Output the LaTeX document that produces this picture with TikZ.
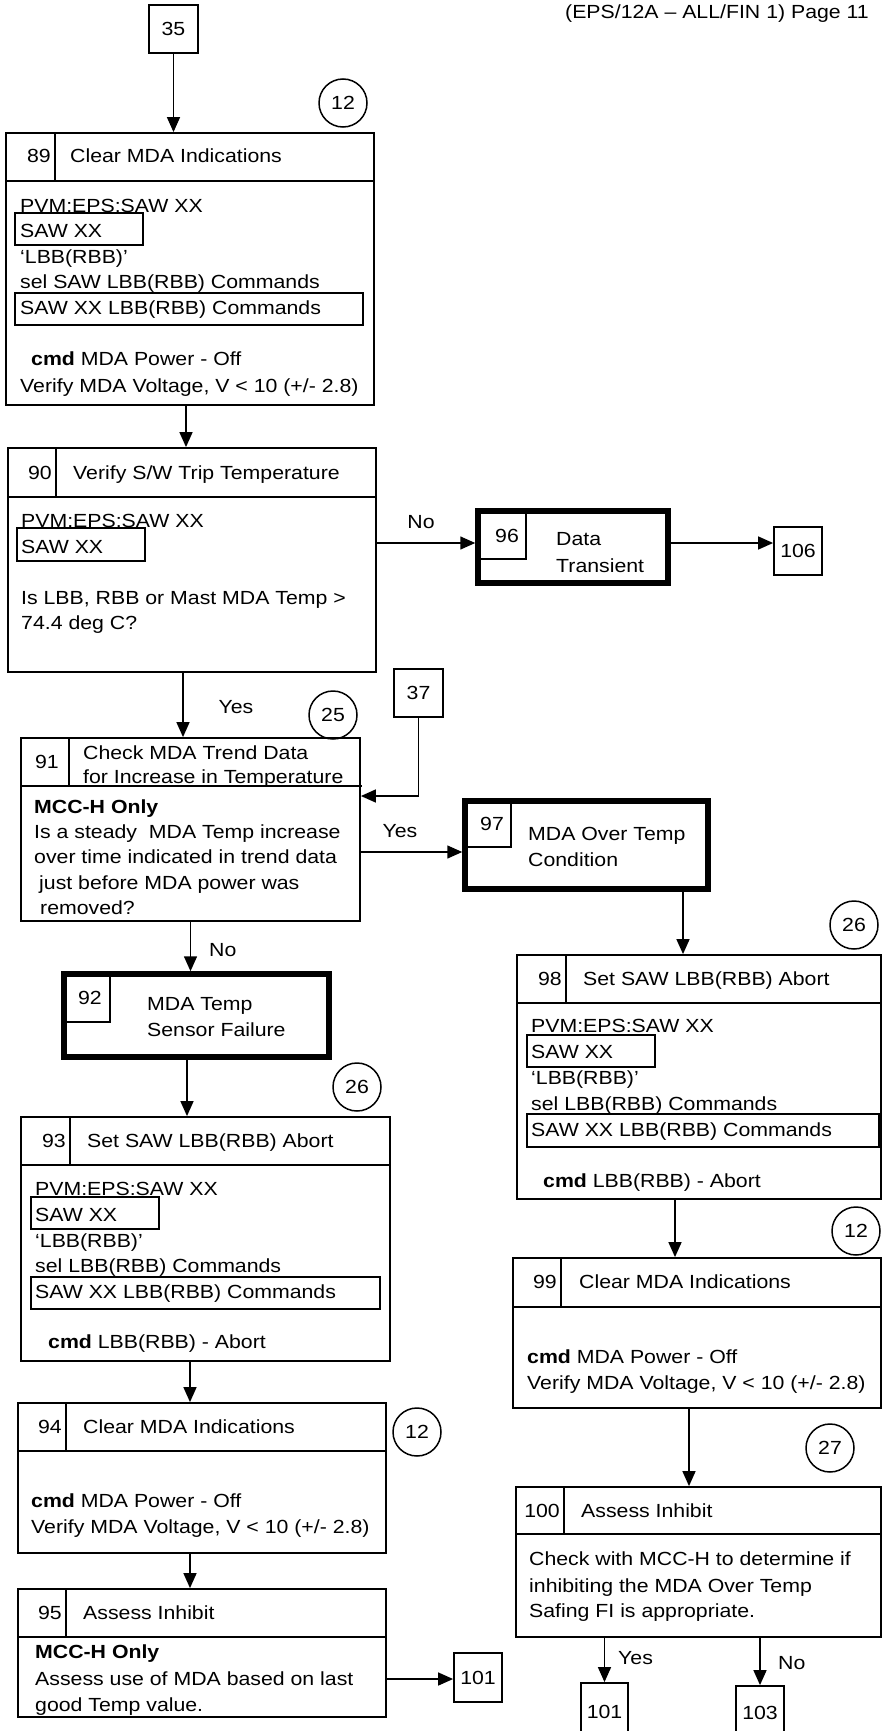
\documentclass[tikz,border=0pt]{standalone}
\usepackage{fontspec}
\setmainfont{Liberation Sans}[FakeStretch=1.12]
\usetikzlibrary{arrows.meta}
\begin{document}
\begin{tikzpicture}[x=1pt,y=-1pt,
  font=\fontsize{19}{22}\selectfont,
  box/.style={draw, rectangle, line width=1.8pt, inner sep=0pt},
  tbox/.style={draw, rectangle, line width=5.5pt, inner sep=0pt},
  sbox/.style={draw, rectangle, line width=1.8pt, inner sep=0pt},
  circ/.style={draw, circle, line width=1.5pt, minimum size=48pt, inner sep=0pt},
  txt/.style={anchor=base west, inner sep=0pt},
  num/.style={anchor=base east, inner sep=0pt},
  ctr/.style={anchor=base, inner sep=0pt},
  div/.style={line width=1.8pt},
  thin/.style={line width=1.5pt},
  arr/.style={line width=1.5pt, -{Triangle[length=15pt,width=13pt]}}]
\useasboundingbox (0,0) rectangle (882,1731);
\fill[white] (0,0) rectangle (882,1731);
\clip (0,0) rectangle (882,1731);

\node[txt] (hdr) at (565,19) {(EPS/12A – ALL/FIN 1) Page 11};

% 35 -> 89
\node[sbox, minimum width=49pt, minimum height=48pt] (n35) at (173.5,29) {35};
\node[circ] (c12a) at (343,103) {12};
\node[box, minimum width=368pt, minimum height=272pt] (b89) at (190,269) {};
\draw[arr] (n35.south) -- (n35.south |- b89.north);
\draw[div] (6,181) -- (374,181) (55,133) -- (55,181);
\node[num] (b89n) at (51,163) {89};
\node[txt] (b89t) at (70,163) {Clear MDA Indications};
\node[txt] (b89a) at (20,212) {PVM:EPS:SAW XX};
\draw[thin] (15,213) rectangle (143,245);
\node[txt] (b89b) at (20,237) {SAW XX};
\node[txt] (b89c) at (20,263) {‘LBB(RBB)’};
\node[txt] (b89d) at (20,288) {sel SAW LBB(RBB) Commands};
\draw[thin] (15,293) rectangle (363,325);
\node[txt] (b89e) at (20,314) {SAW XX LBB(RBB) Commands};
\node[txt] (b89f) at (31,365) {\textbf{cmd} MDA Power - Off};
\node[txt] (b89g) at (20,392) {Verify MDA Voltage, V < 10 (+/- 2.8)};

% 90
\node[box, minimum width=368pt, minimum height=224pt] (b90) at (192,560) {};
\draw[arr] ([xshift=-4pt]b89.south) -- ([xshift=-4pt]b89.south |- b90.north);
\draw[div] (8,497) -- (376,497) (56,448) -- (56,497);
\node[num] (b90n) at (52,479) {90};
\node[txt] (b90t) at (73,479) {Verify S/W Trip Temperature};
\node[txt] (b90a) at (21,527) {PVM:EPS:SAW XX};
\draw[thin] (17,528) rectangle (145,561);
\node[txt] (b90b) at (21,553) {SAW XX};
\node[txt] (b90c) at (21,604) {Is LBB, RBB or Mast MDA Temp >};
\node[txt] (b90d) at (21,629) {74.4 deg C?};

% 96, 106
\node[tbox, minimum width=190pt, minimum height=72pt] (b96) at (573,547) {};
\draw[thin] (526,513) -- (526,560) (481,559) -- (526,559);
\node[ctr] (b96n) at (507,542) {96};
\node[txt] (b96a) at (556,545) {Data};
\node[txt] (b96b) at (556,572) {Transient};
\node[sbox, minimum width=48pt, minimum height=48pt] (n106) at (798,551) {106};
\draw[arr] ([yshift=17pt]b90.east) -- ([yshift=17pt]b90.east -| b96.west);
\node[ctr] (lno1) at (421,528) {No};
\draw[arr] ([yshift=4pt]b96.east) -- ([yshift=4pt]b96.east -| n106.west);

% 37, 25, 91
\node[sbox, minimum width=49pt, minimum height=48pt] (n37) at (418.5,693) {37};
\node[circ] (c25) at (333,715) {25};
\node[box, minimum width=339pt, minimum height=183pt] (b91) at (190.5,829.5) {};
\draw[arr] ([xshift=-9pt]b90.south) -- ([xshift=-9pt]b90.south |- b91.north);
\node[ctr] (lyes1) at (236,713) {Yes};
\node[ctr] (b91n) at (47,768) {91};
\node[txt] (b91t1) at (83,759) {Check MDA Trend Data};
\node[txt] (b91t2) at (83,783) {for Increase in Temperature};
\draw[div] (21,786) -- (362,786) (69,738) -- (69,786);
\node[txt] (b91a) at (34,813) {\textbf{MCC-H Only}};
\node[txt] (b91b) at (34,838) {Is a steady\ \ MDA Temp increase};
\node[txt] (b91c) at (34,863) {over time indicated in trend data};
\node[txt] (b91d) at (39,889) {just before MDA power was};
\node[txt] (b91e) at (40,914) {removed?};
\draw[arr] (n37.south) |- ([yshift=33.5pt]b91.east);

% 97
\node[tbox, minimum width=243pt, minimum height=88pt] (b97) at (586.5,845) {};
\draw[arr] ([yshift=-22.5pt]b91.east) -- ([yshift=-22.5pt]b91.east -| b97.west);
\node[ctr] (lyes2) at (400,837) {Yes};
\draw[thin] (511,803) -- (511,848) (467,847) -- (511,847);
\node[ctr] (b97n) at (492,830) {97};
\node[txt] (b97a) at (528,840) {MDA Over Temp};
\node[txt] (b97b) at (528,866) {Condition};

% 92
\node[tbox, minimum width=265pt, minimum height=83pt] (b92) at (196.5,1015.5) {};
\draw[arr] (b91.south) -- (b91.south |- b92.north);
\node[txt] (lno2) at (209,956) {No};
\draw[thin] (110,976) -- (110,1023) (66,1022) -- (110,1022);
\node[ctr] (b92n) at (90,1004) {92};
\node[txt] (b92a) at (147,1010) {MDA Temp};
\node[txt] (b92b) at (147,1036) {Sensor Failure};

% 93
\node[circ] (c26a) at (357,1087) {26};
\node[box, minimum width=369pt, minimum height=244pt] (b93) at (205.5,1239) {};
\draw[arr] ([xshift=-9.5pt]b92.south) -- ([xshift=-9.5pt]b92.south |- b93.north);
\draw[div] (21,1165) -- (390,1165) (70,1117) -- (70,1165);
\node[num] (b93n) at (66,1147) {93};
\node[txt] (b93t) at (87,1147) {Set SAW LBB(RBB) Abort};
\node[txt] (b93a) at (35,1195) {PVM:EPS:SAW XX};
\draw[thin] (31,1197) rectangle (159,1229);
\node[txt] (b93b) at (35,1221) {SAW XX};
\node[txt] (b93c) at (35,1247) {‘LBB(RBB)’};
\node[txt] (b93d) at (35,1272) {sel LBB(RBB) Commands};
\draw[thin] (31,1277) rectangle (380,1309);
\node[txt] (b93e) at (35,1298) {SAW XX LBB(RBB) Commands};
\node[txt] (b93f) at (48,1348) {\textbf{cmd} LBB(RBB) - Abort};

% 94
\node[box, minimum width=368pt, minimum height=150pt] (b94) at (202,1478) {};
\draw[arr] ([xshift=-15.5pt]b93.south) -- ([xshift=-15.5pt]b93.south |- b94.north);
\draw[div] (18,1451) -- (386,1451) (66,1403) -- (66,1451);
\node[num] (b94n) at (62,1433) {94};
\node[txt] (b94t) at (83,1433) {Clear MDA Indications};
\node[circ] (c12c) at (417,1432) {12};
\node[txt] (b94a) at (31,1507) {\textbf{cmd} MDA Power - Off};
\node[txt] (b94b) at (31,1533) {Verify MDA Voltage, V < 10 (+/- 2.8)};

% 95
\node[box, minimum width=368pt, minimum height=128pt] (b95) at (202,1653) {};
\draw[arr] ([xshift=-12pt]b94.south) -- ([xshift=-12pt]b94.south |- b95.north);
\draw[div] (18,1637) -- (386,1637) (66,1589) -- (66,1637);
\node[num] (b95n) at (62,1619) {95};
\node[txt] (b95t) at (83,1619) {Assess Inhibit};
\node[txt] (b95a) at (35,1658) {\textbf{MCC-H Only}};
\node[txt] (b95b) at (35,1685) {Assess use of MDA based on last};
\node[txt] (b95c) at (35,1711) {good Temp value.};
\node[sbox, minimum width=48pt, minimum height=49pt] (n101a) at (478,1677.5) {101};
\draw[arr] ([yshift=-26pt]b95.east) -- ([yshift=-26pt]b95.east -| n101a.west);

% 98
\node[circ] (c26b) at (854,925) {26};
\node[box, minimum width=364pt, minimum height=244pt] (b98) at (699,1077) {};
\draw[arr] ([xshift=96.5pt]b97.south) -- ([xshift=96.5pt]b97.south |- b98.north);
\draw[div] (517,1003) -- (881,1003) (566,955) -- (566,1003);
\node[num] (b98n) at (562,985) {98};
\node[txt] (b98t) at (583,985) {Set SAW LBB(RBB) Abort};
\node[txt] (b98a) at (531,1032) {PVM:EPS:SAW XX};
\draw[thin] (527,1035) rectangle (655,1067);
\node[txt] (b98b) at (531,1058) {SAW XX};
\node[txt] (b98c) at (531,1084) {‘LBB(RBB)’};
\node[txt] (b98d) at (531,1110) {sel LBB(RBB) Commands};
\draw[thin] (527,1114) rectangle (879,1147);
\node[txt] (b98e) at (531,1136) {SAW XX LBB(RBB) Commands};
\node[txt] (b98f) at (543,1187) {\textbf{cmd} LBB(RBB) - Abort};

% 99
\node[circ] (c12b) at (856,1231) {12};
\node[box, minimum width=368pt, minimum height=150pt] (b99) at (697,1333) {};
\draw[arr] ([xshift=-24pt]b98.south) -- ([xshift=-24pt]b98.south |- b99.north);
\draw[div] (513,1307) -- (881,1307) (561,1258) -- (561,1307);
\node[num] (b99n) at (557,1288) {99};
\node[txt] (b99t) at (579,1288) {Clear MDA Indications};
\node[txt] (b99a) at (527,1363) {\textbf{cmd} MDA Power - Off};
\node[txt] (b99b) at (527,1389) {Verify MDA Voltage, V < 10 (+/- 2.8)};

% 100
\node[circ] (c27) at (830,1448) {27};
\node[box, minimum width=365pt, minimum height=150pt] (b100) at (698.5,1562) {};
\draw[arr] ([xshift=-8pt]b99.south) -- ([xshift=-8pt]b99.south |- b100.north);
\draw[div] (516,1534) -- (881,1534) (564,1487) -- (564,1534);
\node[num] (b100n) at (560,1517) {100};
\node[txt] (b100t) at (581,1517) {Assess Inhibit};
\node[txt] (b100a) at (529,1565) {Check with MCC-H to determine if};
\node[txt] (b100b) at (529,1592) {inhibiting the MDA Over Temp};
\node[txt] (b100c) at (529,1617) {Safing FI is appropriate.};

\node[sbox, minimum width=47pt, minimum height=57pt] (n101b) at (604.5,1711.5) {101};
\node[sbox, minimum width=48pt, minimum height=54pt] (n103) at (760,1713) {103};
\draw[arr] (n101b.north |- b100.south) -- (n101b.north);
\draw[arr] (n103.north |- b100.south) -- (n103.north);
\node[txt] (lyes3) at (618,1664) {Yes};
\node[txt] (lno3) at (778,1669) {No};
\end{tikzpicture}
\end{document}
